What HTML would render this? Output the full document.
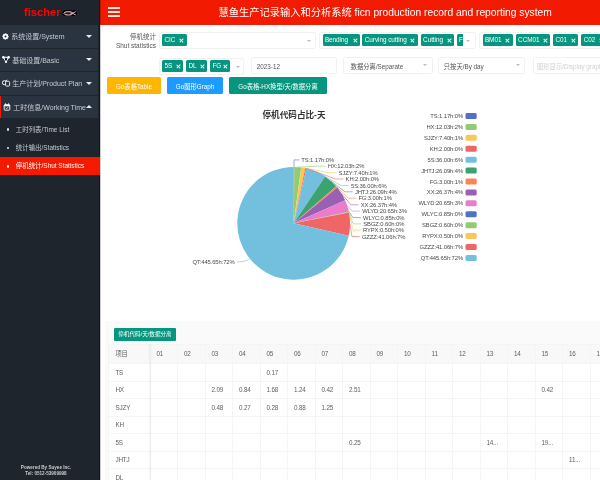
<!DOCTYPE html>
<html><head><meta charset="utf-8">
<style>
*{box-sizing:border-box;margin:0;padding:0}
html,body{width:600px;height:480px;overflow:hidden;background:#fff}
body{position:relative;-webkit-font-smoothing:antialiased;font-family:"Liberation Sans","Noto Sans CJK SC",sans-serif;color:#555}
.abs{position:absolute}
/* sidebar */
#side{position:absolute;left:0;top:0;width:100px;height:480px;background:#1f252d}
#logo{position:absolute;left:24px;top:6.2px;font:bold 11.2px "Liberation Sans",sans-serif;color:#ff0000;letter-spacing:0}
.mi{position:absolute;left:0;width:98px;height:23.6px;background:#2a3441;border-bottom:1px solid #20262e;color:#c6cad0;font-size:7px;line-height:22.6px;white-space:nowrap}
.mi .tx{position:absolute;left:11.2px;top:1.2px}
.mi .car{position:absolute;left:86px;top:9.5px;width:0;height:0;border-left:3px solid transparent;border-right:3px solid transparent;border-top:3px solid #e8eaec}
.mi .car.up{border-top:0;border-bottom:3px solid #e8eaec;top:9.5px}
.si{position:absolute;left:0;width:100px;height:18.3px;color:#c6cad0;font-size:6.45px;line-height:18.3px;white-space:nowrap}
.si .dot{position:absolute;left:6.9px;top:7.9px;width:2.6px;height:2.6px;border-radius:50%;background:#e0e2e6}
.si .tx{position:absolute;left:15.8px;top:0}
.si.act{background:#f31a00;color:#fff}
.si.act .dot{background:#fff}
#foot{position:absolute;left:0;width:92px;text-align:center;color:#c8cbd0;font:bold 4.6px "Liberation Sans",sans-serif;line-height:6.2px}
/* header */
#hdr{position:absolute;left:100px;top:0;width:500px;height:25px;background:#f21a00}
#hdr .bar{position:absolute;left:8.3px;width:11.7px;height:1.5px;background:#fbe6e2}
#title{position:absolute;left:118.5px;top:7.2px;color:#fff;font-size:10.25px;line-height:12px;white-space:nowrap}
#vline{position:absolute;left:100px;top:0;width:1px;height:480px;background:rgba(0,0,0,0.2)}
/* filters */
.lbl{position:absolute;right:444px;font-size:6.5px;color:#555;white-space:nowrap;text-align:right}
.sel{position:absolute;border:1px solid #f2f2f2;border-radius:2px;height:17px;overflow:hidden;background:#fff}
.tag{position:absolute;top:1.8px;height:11.6px;background:#06957f;border-radius:1.5px;color:#fff;font-size:6.4px;line-height:11.6px;padding-left:2.4px;white-space:nowrap;letter-spacing:-0.05px}
.tag .x{position:absolute;right:3.2px;top:4.1px;width:3.4px;height:3.4px}
.tag .x:before,.tag .x:after{content:"";position:absolute;left:-0.7px;top:1.3px;width:4.8px;height:0.8px;background:#e8f5f3;transform:rotate(45deg)}
.tag .x:after{transform:rotate(-45deg)}
.arr{position:absolute;width:0;height:0;border-left:2.5px solid transparent;border-right:2.5px solid transparent;border-top:2.5px solid #bbb}
.inp{position:absolute;border:1px solid #f2f2f2;border-radius:2px;height:17px;font-size:6.3px;line-height:16px;padding-top:1.2px;color:#555;white-space:nowrap;overflow:hidden}
.btn{position:absolute;top:77.3px;height:17px;border-radius:1.5px;color:#fff;font-size:6.3px;line-height:17px;padding-top:0.8px;text-align:center;white-space:nowrap}
/* chart */
#chart{position:absolute;left:0;top:0}
/* panel */
#panel{position:absolute;left:105px;top:321px;width:495px;height:159px;background:#fafafa}
#pbtn{position:absolute;left:114px;top:327.5px;width:62px;height:13.2px;background:#06957f;border-radius:1px;color:#fff;font-size:5.6px;line-height:13.2px;text-align:center;white-space:nowrap}
table{position:absolute;left:108px;top:343.5px;width:509px;border-collapse:collapse;table-layout:fixed;background:#fff;font-size:6.3px;color:#606266}
td{height:17.5px;border:0.5px solid #f5f5f5;padding-left:6px;letter-spacing:-0.15px;white-space:nowrap;overflow:hidden}
tr.h td{background:#f8f8f8;height:19.5px}
td.f{width:41.5px;padding-left:6.4px}
td.c{width:27.5px}
</style></head>
<body>
<div id="root" style="position:absolute;left:0;top:0;width:600px;height:480px;will-change:transform">
<div id="side">
  <div class="abs" style="left:99px;top:0;width:1px;height:480px;background:#12181e"></div>
  <div id="logo">fischer</div>
  <svg class="abs" style="left:0;top:0" width="100" height="25" viewBox="0 0 100 25">
    <rect x="62.6" y="10.3" width="14.3" height="5.7" rx="2.8" fill="#000"/>
    <ellipse cx="68.3" cy="13.35" rx="4.4" ry="1.75" fill="#2a1a1e" stroke="#f2c4cc" stroke-width="1"/>
    <path d="M70.5,13.3 L72.6,13.3 M72.4,13.3 L75.8,11.7 M72.4,13.3 L75.8,15" stroke="#f2c4cc" stroke-width="0.9" fill="none"/>
  </svg>
  <div class="mi" style="top:25px">
    <svg class="abs" style="left:0;top:5.7px" width="11" height="11" viewBox="0 0 11 11"><polygon points="8.75,5.50 8.69,6.13 7.99,6.53 7.74,7.00 7.80,7.80 7.31,8.20 6.53,7.99 6.03,8.15 5.50,8.75 4.87,8.69 4.47,7.99 4.00,7.74 3.20,7.80 2.80,7.31 3.01,6.53 2.85,6.03 2.25,5.50 2.31,4.87 3.01,4.47 3.26,4.00 3.20,3.20 3.69,2.80 4.47,3.01 4.97,2.85 5.50,2.25 6.13,2.31 6.53,3.01 7.00,3.26 7.80,3.20 8.20,3.69 7.99,4.47 8.15,4.97" fill="#fff"/><circle cx="5.5" cy="5.5" r="1" fill="#222"/></svg>
    <span class="tx">系统设置/System</span><i class="car"></i></div>
  <div class="mi" style="top:48.6px">
    <svg class="abs" style="left:0;top:0" width="12" height="23" viewBox="0 0 12 23"><path d="M3.4,8.3 L6,12.8 L8.6,8.3 Z" stroke="#fff" stroke-width="1.1" fill="none" stroke-linejoin="round"/><circle cx="3.3" cy="8.2" r="1.2" fill="#fff"/><circle cx="8.7" cy="8.2" r="1.2" fill="#fff"/><circle cx="6" cy="10.6" r="1.1" fill="#111"/><circle cx="6" cy="13" r="1.1" fill="#fff"/></svg>
    <span class="tx" style="left:12.2px">基础设置/Basic</span><i class="car"></i></div>
  <div class="mi" style="top:72.2px">
    <svg class="abs" style="left:0;top:0" width="12" height="23" viewBox="0 0 12 23"><circle cx="4.4" cy="10.7" r="2" stroke="#fff" stroke-width="1" fill="none"/><rect x="5.6" y="9.3" width="4" height="4.8" rx="1" stroke="#e8eaec" stroke-width="1" fill="#2a3441"/><path d="M5.2,9.5 L7.2,7.9" stroke="#fff" stroke-width="0.9"/></svg>
    <span class="tx" style="left:12.2px">生产计划/Product Plan</span><i class="car"></i></div>
  <div class="mi" style="top:95.8px;border-bottom:0;height:22.7px">
    <div class="abs" style="left:0;top:0;width:1.3px;height:22.7px;background:#f31a00"></div>
    <svg class="abs" style="left:0;top:0" width="12" height="23" viewBox="0 0 12 23"><rect x="4.2" y="8.6" width="5.6" height="5.6" rx="0.8" stroke="#fff" stroke-width="0.9" fill="none"/><path d="M4.2,9.6 H9.8" stroke="#fff" stroke-width="1.4"/><path d="M5.4,7.2 V8.6 M8.6,7.2 V8.6" stroke="#fff" stroke-width="0.8"/><path d="M5.6,11.9 L6.6,12.8 L8.4,10.8" stroke="#fff" stroke-width="0.8" fill="none"/></svg>
    <span class="tx" style="left:13.3px">工时信息/Working Time</span><i class="car up"></i></div>
  <div class="si" style="top:120.5px"><i class="dot"></i><span class="tx">工时列表/Time List</span></div>
  <div class="si" style="top:138.8px"><i class="dot"></i><span class="tx">统计输出/Statistics</span></div>
  <div class="si act" style="top:157.1px"><i class="dot"></i><span class="tx">停机统计/Shut Statistics</span></div>
  <div id="foot" style="top:465.2px">Powered By Suyee Inc.<br>Tel: 0512-53909998</div>
</div>

<div id="hdr">
  <div class="bar" style="top:7.1px"></div>
  <div class="bar" style="top:11.2px"></div>
  <div class="bar" style="top:15.3px"></div>
  <div id="title">慧鱼生产记录输入和分析系统 ficn production record and reporting system</div>
</div>
<div id="vline"></div>

<!-- filters -->
<div class="lbl" style="top:32.5px;line-height:8px">停机统计</div>
<div class="lbl" style="top:41.5px;line-height:8px">Shut statistics</div>

<div class="sel" style="left:159px;top:31.5px;width:157px">
  <div class="tag" style="left:2px;width:24.5px">CIC<span class="x"></span></div>
  <i class="arr" style="left:147px;top:7px"></i>
</div>
<div class="sel" style="left:318.5px;top:31.5px;width:157px">
  <div class="tag" style="left:3px;width:37.3px">Bending<span class="x"></span></div>
  <div class="tag" style="left:42.9px;width:55.3px">Curving cutting<span class="x"></span></div>
  <div class="tag" style="left:101.2px;width:33.6px">Cutting<span class="x"></span></div>
  <div class="tag" style="left:137px;width:6px;overflow:hidden;border-radius:1.5px 0 0 1.5px">F</div>
  <i class="arr" style="left:146px;top:7px"></i>
</div>
<div class="sel" style="left:478.5px;top:31.5px;width:140px">
  <div class="tag" style="left:3px;width:30px">BM01<span class="x"></span></div>
  <div class="tag" style="left:36.2px;width:34.1px">CCM01<span class="x"></span></div>
  <div class="tag" style="left:73.5px;width:24.8px">C01<span class="x"></span></div>
  <div class="tag" style="left:101.8px;width:24.8px">C02<span class="x"></span></div>
</div>

<div class="sel" style="left:159px;top:57.6px;width:85px">
  <div class="tag" style="left:2px;width:21.3px">5S<span class="x"></span></div>
  <div class="tag" style="left:26px;width:21.2px">DL<span class="x"></span></div>
  <div class="tag" style="left:50px;width:20.3px">FG<span class="x"></span></div>
  <i class="arr" style="left:75.5px;top:7px"></i>
</div>
<div class="inp" style="left:250.8px;top:56.5px;width:86px;padding-left:5px">2023-12</div>
<div class="inp" style="left:343px;top:56.5px;width:90px;padding-left:6.7px">数据分离/Separate<i class="arr" style="left:78.5px;top:6.5px"></i></div>
<div class="inp" style="left:437.8px;top:56.5px;width:87.2px;padding-left:5px">只按天/By day<i class="arr" style="left:77px;top:6.5px"></i></div>
<div class="inp" style="left:533px;top:56.5px;width:80px;padding-left:3px;color:#d0d0d0">图形显示/Display graph</div>

<div class="btn" style="left:107px;width:54px;background:#ffb600">Go表格Table</div>
<div class="btn" style="left:167px;width:56px;background:#1e9bfe">Go图形Graph</div>
<div class="btn" style="left:229.4px;width:97.2px;background:#06957f">Go表格-HX换型/天/数据分离</div>

<!-- chart -->
<div class="abs" style="left:262.5px;top:110.3px;font-weight:bold;font-size:8.6px;line-height:11px;color:#333;white-space:nowrap">停机代码占比-天</div>
<svg id="chart" width="600" height="480" viewBox="0 0 600 480" style="pointer-events:none">
<path d="M293.7,223.3L293.70,166.90A56.4,56.4 0 0 1 294.37,166.90Z" fill="#5470c6"/>
<path d="M293.7,223.3L294.37,166.90A56.4,56.4 0 0 1 301.18,167.40Z" fill="#91cc75"/>
<path d="M293.7,223.3L301.18,167.40A56.4,56.4 0 0 1 305.33,168.11Z" fill="#fac858"/>
<path d="M293.7,223.3L305.33,168.11A56.4,56.4 0 0 1 306.44,168.36Z" fill="#ee6666"/>
<path d="M293.7,223.3L306.44,168.36A56.4,56.4 0 0 1 325.11,176.46Z" fill="#73c0de"/>
<path d="M293.7,223.3L325.11,176.46A56.4,56.4 0 0 1 336.21,186.23Z" fill="#3ba272"/>
<path d="M293.7,223.3L336.21,186.23A56.4,56.4 0 0 1 337.31,187.53Z" fill="#fc8452"/>
<path d="M293.7,223.3L337.31,187.53A56.4,56.4 0 0 1 345.17,200.24Z" fill="#9a60b4"/>
<path d="M293.7,223.3L345.17,200.24A56.4,56.4 0 0 1 348.83,211.38Z" fill="#ea7ccc"/>
<path d="M293.7,223.3L348.83,211.38A56.4,56.4 0 0 1 348.93,211.85Z" fill="#5470c6"/>
<path d="M293.7,223.3L348.93,211.85A56.4,56.4 0 0 1 348.99,212.18Z" fill="#91cc75"/>
<path d="M293.7,223.3L348.99,212.18A56.4,56.4 0 0 1 349.05,212.46Z" fill="#fac858"/>
<path d="M293.7,223.3L349.05,212.46A56.4,56.4 0 0 1 348.73,235.64Z" fill="#ee6666"/>
<path d="M293.7,223.3L348.73,235.64A56.4,56.4 0 1 1 293.70,166.90Z" fill="#73c0de"/>
<polyline points="294.03,166.90 294.03,159.90 299.50,159.90" fill="none" stroke="#5470c6" stroke-width="0.6"/>
<text font-family="Liberation Sans, sans-serif" letter-spacing="-0.1" x="301.3" y="162.00" font-size="5.85" fill="#4a4a4a">TS:1.17h:0%</text>
<polyline points="297.78,167.05 317.80,166.20 325.60,166.20" fill="none" stroke="#91cc75" stroke-width="0.6"/>
<text font-family="Liberation Sans, sans-serif" letter-spacing="-0.1" x="327.8" y="168.30" font-size="5.85" fill="#4a4a4a">HX:12.03h:2%</text>
<polyline points="303.26,167.72 328.60,172.60 336.40,172.60" fill="none" stroke="#fac858" stroke-width="0.6"/>
<text font-family="Liberation Sans, sans-serif" letter-spacing="-0.1" x="338.6" y="174.70" font-size="5.85" fill="#4a4a4a">SJZY:7.40h:1%</text>
<polyline points="305.88,168.23 335.60,179.00 343.40,179.00" fill="none" stroke="#ee6666" stroke-width="0.6"/>
<text font-family="Liberation Sans, sans-serif" letter-spacing="-0.1" x="345.6" y="181.10" font-size="5.85" fill="#4a4a4a">KH:2.00h:0%</text>
<polyline points="316.14,171.56 341.00,185.40 348.80,185.40" fill="none" stroke="#73c0de" stroke-width="0.6"/>
<text font-family="Liberation Sans, sans-serif" letter-spacing="-0.1" x="351.0" y="187.50" font-size="5.85" fill="#4a4a4a">5S:36.00h:6%</text>
<polyline points="330.98,180.98 344.90,191.80 352.70,191.80" fill="none" stroke="#3ba272" stroke-width="0.6"/>
<text font-family="Liberation Sans, sans-serif" letter-spacing="-0.1" x="354.9" y="193.90" font-size="5.85" fill="#4a4a4a">JHTJ:26.09h:4%</text>
<polyline points="336.76,186.88 348.40,198.10 356.20,198.10" fill="none" stroke="#fc8452" stroke-width="0.6"/>
<text font-family="Liberation Sans, sans-serif" letter-spacing="-0.1" x="358.4" y="200.20" font-size="5.85" fill="#4a4a4a">FG:3.00h:1%</text>
<polyline points="341.66,193.63 350.80,204.80 358.60,204.80" fill="none" stroke="#9a60b4" stroke-width="0.6"/>
<text font-family="Liberation Sans, sans-serif" letter-spacing="-0.1" x="360.8" y="206.90" font-size="5.85" fill="#4a4a4a">XX:26.37h:4%</text>
<polyline points="347.29,205.72 352.20,211.10 360.00,211.10" fill="none" stroke="#ea7ccc" stroke-width="0.6"/>
<text font-family="Liberation Sans, sans-serif" letter-spacing="-0.1" x="362.2" y="213.20" font-size="5.85" fill="#4a4a4a">WLYD:20.65h:3%</text>
<polyline points="348.88,211.61 353.00,217.60 360.80,217.60" fill="none" stroke="#5470c6" stroke-width="0.6"/>
<text font-family="Liberation Sans, sans-serif" letter-spacing="-0.1" x="363.0" y="219.70" font-size="5.85" fill="#4a4a4a">WLYC:0.85h:0%</text>
<polyline points="348.96,212.02 353.30,223.90 361.10,223.90" fill="none" stroke="#91cc75" stroke-width="0.6"/>
<text font-family="Liberation Sans, sans-serif" letter-spacing="-0.1" x="363.3" y="226.00" font-size="5.85" fill="#4a4a4a">SBGZ:0.60h:0%</text>
<polyline points="349.02,212.32 353.00,230.20 360.80,230.20" fill="none" stroke="#fac858" stroke-width="0.6"/>
<text font-family="Liberation Sans, sans-serif" letter-spacing="-0.1" x="363.0" y="232.30" font-size="5.85" fill="#4a4a4a">RYPX:0.50h:0%</text>
<polyline points="350.09,224.07 351.90,236.50 359.70,236.50" fill="none" stroke="#ee6666" stroke-width="0.6"/>
<text font-family="Liberation Sans, sans-serif" letter-spacing="-0.1" x="361.9" y="238.60" font-size="5.85" fill="#4a4a4a">GZZZ:41.06h:7%</text>
<path d="M249.67,258.55 Q245.67,262.00 237.00,262.00" fill="none" stroke="#73c0de" stroke-width="0.6"/>
<text font-family="Liberation Sans, sans-serif" letter-spacing="-0.1" x="234.6" y="264.10" font-size="5.85" fill="#4a4a4a" text-anchor="end">QT:445.65h:72%</text>
<text font-family="Liberation Sans, sans-serif" letter-spacing="-0.1" x="463" y="118.00" font-size="5.85" fill="#4a4a4a" text-anchor="end">TS:1.17h:0%</text>
<rect x="465.5" y="113.00" width="11.2" height="6" rx="1.5" fill="#5470c6"/>
<text font-family="Liberation Sans, sans-serif" letter-spacing="-0.1" x="463" y="128.92" font-size="5.85" fill="#4a4a4a" text-anchor="end">HX:12.03h:2%</text>
<rect x="465.5" y="123.92" width="11.2" height="6" rx="1.5" fill="#91cc75"/>
<text font-family="Liberation Sans, sans-serif" letter-spacing="-0.1" x="463" y="139.84" font-size="5.85" fill="#4a4a4a" text-anchor="end">SJZY:7.40h:1%</text>
<rect x="465.5" y="134.84" width="11.2" height="6" rx="1.5" fill="#fac858"/>
<text font-family="Liberation Sans, sans-serif" letter-spacing="-0.1" x="463" y="150.76" font-size="5.85" fill="#4a4a4a" text-anchor="end">KH:2.00h:0%</text>
<rect x="465.5" y="145.76" width="11.2" height="6" rx="1.5" fill="#ee6666"/>
<text font-family="Liberation Sans, sans-serif" letter-spacing="-0.1" x="463" y="161.68" font-size="5.85" fill="#4a4a4a" text-anchor="end">5S:36.00h:6%</text>
<rect x="465.5" y="156.68" width="11.2" height="6" rx="1.5" fill="#73c0de"/>
<text font-family="Liberation Sans, sans-serif" letter-spacing="-0.1" x="463" y="172.60" font-size="5.85" fill="#4a4a4a" text-anchor="end">JHTJ:26.09h:4%</text>
<rect x="465.5" y="167.60" width="11.2" height="6" rx="1.5" fill="#3ba272"/>
<text font-family="Liberation Sans, sans-serif" letter-spacing="-0.1" x="463" y="183.52" font-size="5.85" fill="#4a4a4a" text-anchor="end">FG:3.00h:1%</text>
<rect x="465.5" y="178.52" width="11.2" height="6" rx="1.5" fill="#fc8452"/>
<text font-family="Liberation Sans, sans-serif" letter-spacing="-0.1" x="463" y="194.44" font-size="5.85" fill="#4a4a4a" text-anchor="end">XX:26.37h:4%</text>
<rect x="465.5" y="189.44" width="11.2" height="6" rx="1.5" fill="#9a60b4"/>
<text font-family="Liberation Sans, sans-serif" letter-spacing="-0.1" x="463" y="205.36" font-size="5.85" fill="#4a4a4a" text-anchor="end">WLYD:20.65h:3%</text>
<rect x="465.5" y="200.36" width="11.2" height="6" rx="1.5" fill="#ea7ccc"/>
<text font-family="Liberation Sans, sans-serif" letter-spacing="-0.1" x="463" y="216.28" font-size="5.85" fill="#4a4a4a" text-anchor="end">WLYC:0.85h:0%</text>
<rect x="465.5" y="211.28" width="11.2" height="6" rx="1.5" fill="#5470c6"/>
<text font-family="Liberation Sans, sans-serif" letter-spacing="-0.1" x="463" y="227.20" font-size="5.85" fill="#4a4a4a" text-anchor="end">SBGZ:0.60h:0%</text>
<rect x="465.5" y="222.20" width="11.2" height="6" rx="1.5" fill="#91cc75"/>
<text font-family="Liberation Sans, sans-serif" letter-spacing="-0.1" x="463" y="238.12" font-size="5.85" fill="#4a4a4a" text-anchor="end">RYPX:0.50h:0%</text>
<rect x="465.5" y="233.12" width="11.2" height="6" rx="1.5" fill="#fac858"/>
<text font-family="Liberation Sans, sans-serif" letter-spacing="-0.1" x="463" y="249.04" font-size="5.85" fill="#4a4a4a" text-anchor="end">GZZZ:41.06h:7%</text>
<rect x="465.5" y="244.04" width="11.2" height="6" rx="1.5" fill="#ee6666"/>
<text font-family="Liberation Sans, sans-serif" letter-spacing="-0.1" x="463" y="259.96" font-size="5.85" fill="#4a4a4a" text-anchor="end">QT:445.65h:72%</text>
<rect x="465.5" y="254.96" width="11.2" height="6" rx="1.5" fill="#73c0de"/>
</svg>

<!-- panel -->
<div id="panel"></div>
<div id="pbtn">停机代码/天/数据分离</div>
<table>
<tr class="h"><td class="f">项目</td><td class="c">01</td><td class="c">02</td><td class="c">03</td><td class="c">04</td><td class="c">05</td><td class="c">06</td><td class="c">07</td><td class="c">08</td><td class="c">09</td><td class="c">10</td><td class="c">11</td><td class="c">12</td><td class="c">13</td><td class="c">14</td><td class="c">15</td><td class="c">16</td><td class="c">17</td></tr>
<tr><td class="f">TS</td><td class="c"></td><td class="c"></td><td class="c"></td><td class="c"></td><td class="c">0.17</td><td class="c"></td><td class="c"></td><td class="c"></td><td class="c"></td><td class="c"></td><td class="c"></td><td class="c"></td><td class="c"></td><td class="c"></td><td class="c"></td><td class="c"></td><td class="c"></td></tr>
<tr><td class="f">HX</td><td class="c"></td><td class="c"></td><td class="c">2.09</td><td class="c">0.84</td><td class="c">1.68</td><td class="c">1.24</td><td class="c">0.42</td><td class="c">2.51</td><td class="c"></td><td class="c"></td><td class="c"></td><td class="c"></td><td class="c"></td><td class="c"></td><td class="c">0.42</td><td class="c"></td><td class="c"></td></tr>
<tr><td class="f">SJZY</td><td class="c"></td><td class="c"></td><td class="c">0.48</td><td class="c">0.27</td><td class="c">0.28</td><td class="c">0.88</td><td class="c">1.25</td><td class="c"></td><td class="c"></td><td class="c"></td><td class="c"></td><td class="c"></td><td class="c"></td><td class="c"></td><td class="c"></td><td class="c"></td><td class="c"></td></tr>
<tr><td class="f">KH</td><td class="c"></td><td class="c"></td><td class="c"></td><td class="c"></td><td class="c"></td><td class="c"></td><td class="c"></td><td class="c"></td><td class="c"></td><td class="c"></td><td class="c"></td><td class="c"></td><td class="c"></td><td class="c"></td><td class="c"></td><td class="c"></td><td class="c"></td></tr>
<tr><td class="f">5S</td><td class="c"></td><td class="c"></td><td class="c"></td><td class="c"></td><td class="c"></td><td class="c"></td><td class="c"></td><td class="c">0.25</td><td class="c"></td><td class="c"></td><td class="c"></td><td class="c"></td><td class="c">14...</td><td class="c"></td><td class="c">19...</td><td class="c"></td><td class="c"></td></tr>
<tr><td class="f">JHTJ</td><td class="c"></td><td class="c"></td><td class="c"></td><td class="c"></td><td class="c"></td><td class="c"></td><td class="c"></td><td class="c"></td><td class="c"></td><td class="c"></td><td class="c"></td><td class="c"></td><td class="c"></td><td class="c"></td><td class="c"></td><td class="c">11...</td><td class="c"></td></tr>
<tr><td class="f">DL</td><td class="c"></td><td class="c"></td><td class="c"></td><td class="c"></td><td class="c"></td><td class="c"></td><td class="c"></td><td class="c"></td><td class="c"></td><td class="c"></td><td class="c"></td><td class="c"></td><td class="c"></td><td class="c"></td><td class="c"></td><td class="c"></td><td class="c"></td></tr>
</table>
<div class="abs" style="left:147.5px;top:343.5px;width:4px;height:137px;background:linear-gradient(90deg,rgba(0,0,0,0) 0%,rgba(0,0,0,0.035) 40%,rgba(0,0,0,0.035) 60%,rgba(0,0,0,0) 100%)"></div>
</div>
</body></html>
